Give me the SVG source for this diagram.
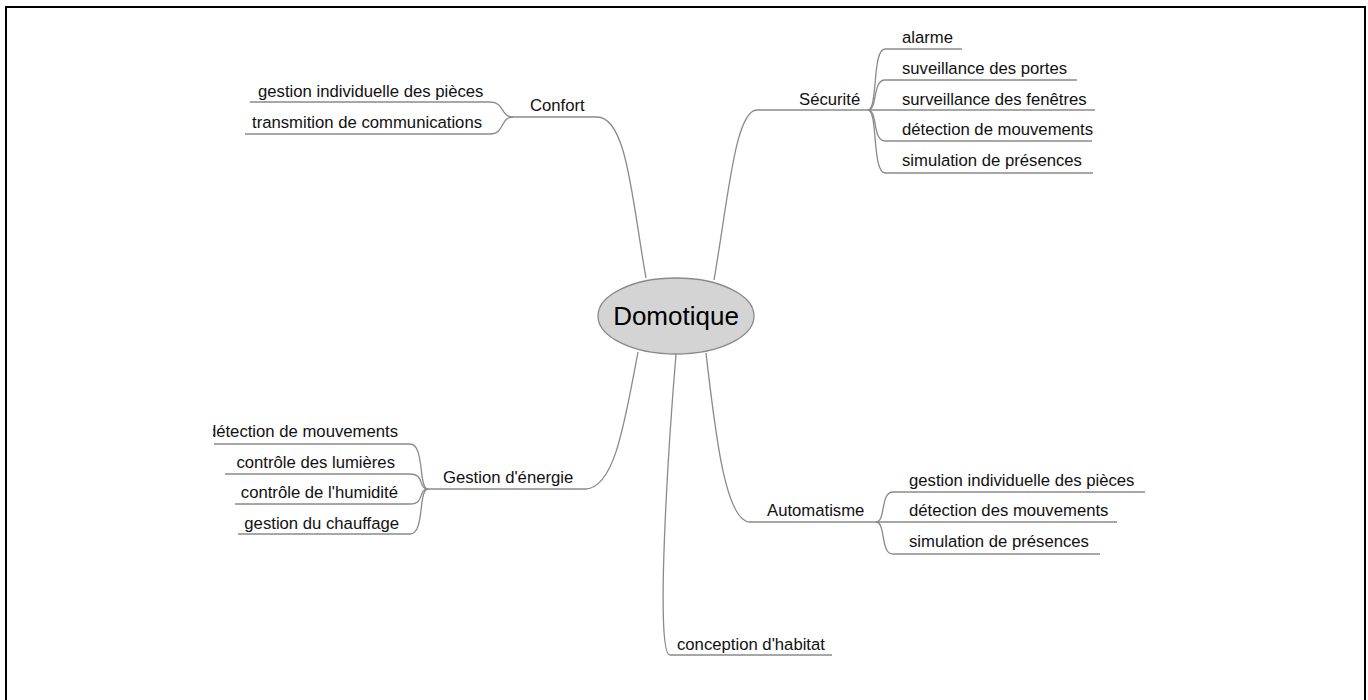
<svg xmlns="http://www.w3.org/2000/svg" width="1368" height="700" viewBox="0 0 1368 700">
<style>
.t{font-family:"Liberation Sans",Arial,sans-serif;font-size:16.7px;fill:#111}
.c{fill:none;stroke:#8a8a8a;stroke-width:1.3}
.r{text-anchor:end}
</style>
<defs>
<clipPath id="clipL"><rect x="213" y="0" width="1200" height="700"/></clipPath>
</defs>
<rect x="0" y="0" width="1368" height="700" fill="#fff"/>
<rect x="6" y="7" width="1359" height="700" fill="none" stroke="#000" stroke-width="2"/>
<g id="connectors">
<path class="c" d="M646 278 C632 200 627 117 597 117 L513 117"/>
<path class="c" d="M513 117 C500 117 505 102 490 102 L250 102"/>
<path class="c" d="M513 117 C500 117 505 134 490 134 L245 134"/>
<path class="c" d="M714 280 C728 200 735 110 757 110 L868 110"/>
<path class="c" d="M868 110 C878 110 872 49 885 49 L962 49"/>
<path class="c" d="M868 110 C878 110 872 80 885 80 L1077 80"/>
<path class="c" d="M868 110 L1095 110"/>
<path class="c" d="M868 110 C878 110 872 141 885 141 L1092 141"/>
<path class="c" d="M868 110 C878 110 872 173 885 173 L1093 173"/>
<path class="c" d="M638 352 C625 420 615 489 585 489 L428 489"/>
<path class="c" d="M428 489 C418 489 425 444 410 444 L214 444"/>
<path class="c" d="M428 489 C418 489 425 474 410 474 L225 474"/>
<path class="c" d="M428 489 C418 489 425 504 410 504 L235 504"/>
<path class="c" d="M428 489 C418 489 425 534 410 534 L238 534"/>
<path class="c" d="M706 353 C715 430 725 522 750 522 L876 522"/>
<path class="c" d="M876 522 C886 522 880 492 893 492 L1145 492"/>
<path class="c" d="M876 522 L1117 522"/>
<path class="c" d="M876 522 C886 522 880 554 893 554 L1100 554"/>
<path class="c" d="M676 354 C668 450 655 655 670 655 L832 655"/>
</g>
<g id="center">
<ellipse cx="676" cy="316" rx="78" ry="38" fill="#d4d4d4" stroke="#8a8a8a" stroke-width="1.3"/>
<text x="676" y="325" text-anchor="middle" font-family="Liberation Sans,Arial,sans-serif" font-size="26" fill="#000">Domotique</text>
</g>
<g id="confort"><text class="t" x="530" y="111">Confort</text></g>
<g id="confort-1"><text class="t" x="258" y="97">gestion individuelle des pièces</text></g>
<g id="confort-2"><text class="t" x="252" y="128">transmition de communications</text></g>
<g id="securite"><text class="t" x="799" y="105">Sécurité</text></g>
<g id="sec-1"><text class="t" x="902" y="43">alarme</text></g>
<g id="sec-2"><text class="t" x="902" y="74">suveillance des portes</text></g>
<g id="sec-3"><text class="t" x="902" y="105">surveillance des fenêtres</text></g>
<g id="sec-4"><text class="t" x="902" y="135">détection de mouvements</text></g>
<g id="sec-5"><text class="t" x="902" y="166">simulation de présences</text></g>
<g id="energie"><text class="t" x="443" y="483">Gestion d'énergie</text></g>
<g id="en-1" clip-path="url(#clipL)"><text class="t r" x="398" y="437">détection de mouvements</text></g>
<g id="en-2"><text class="t r" x="395" y="468">contrôle des lumières</text></g>
<g id="en-3"><text class="t r" x="398" y="498">contrôle de l'humidité</text></g>
<g id="en-4"><text class="t r" x="399" y="529">gestion du chauffage</text></g>
<g id="automatisme"><text class="t" x="767" y="516">Automatisme</text></g>
<g id="au-1"><text class="t" x="909" y="486">gestion individuelle des pièces</text></g>
<g id="au-2"><text class="t" x="909" y="516">détection des mouvements</text></g>
<g id="au-3"><text class="t" x="909" y="547">simulation de présences</text></g>
<g id="conception"><text class="t" x="677" y="650">conception d'habitat</text></g>
</svg>
